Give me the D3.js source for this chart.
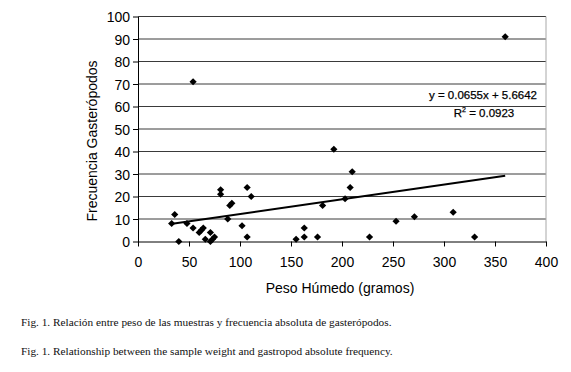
<!DOCTYPE html>
<html>
<head>
<meta charset="utf-8">
<style>
  body { margin: 0; background: #fff; }
  svg { display: block; }
</style>
</head>
<body>
<div id="container"></div>
<script src="https://cdn.jsdelivr.net/npm/d3@7"></script>
<script>

// peso humedo (g) vs frecuencia de gasteropodos
const pesoX = [33, 36, 40, 48, 54, 60, 62, 64, 66, 71, 71, 73, 75, 81, 81, 88, 90, 92, 102, 107, 107, 111,
               155, 163, 163, 176, 181, 192, 203, 208, 210, 227, 253, 271, 309, 330, 54, 360];
const frecY = [8, 12, 0, 8, 6, 4, 5, 6, 1, 4, 0, 1, 2, 23, 21, 10, 16, 17, 7, 24, 2, 20,
               1, 6, 2, 2, 16, 41, 19, 24, 31, 2, 9, 11, 13, 2, 71, 91];

// linear trend shown in the chart
const trendRange = [32, 360];
const slope = 0.0655, intercept = 5.6642, r2 = 0.0923;

const xTicks = [0, 50, 100, 150, 200, 250, 300, 350, 400];
const yTicks = [0, 10, 20, 30, 40, 50, 60, 70, 80, 90, 100];

const captions = [
  "Fig. 1. Relación entre peso de las muestras y frecuencia absoluta de gasterópodos.",
  "Fig. 1. Relationship between the sample weight and gastropod absolute frequency."
];

const W = 571, H = 372;
const pL = 138, pR = 546, pT = 16.5, pB = 241.5;
const font = "'Liberation Sans', Arial, sans-serif";

const svg = d3.select("#container").append("svg")
    .attr("width", W)
    .attr("height", H);

let x = d3.scaleLinear().domain([0, 400]).range([pL, pR]);
let y = d3.scaleLinear().domain([0, 100]).range([pB, pT]);

// gridlines
svg.append("g").selectAll("line").data(yTicks.filter(d => d > 0)).enter().append("line")
    .attr("x1", pL).attr("x2", pR)
    .attr("y1", d => y(d)).attr("y2", d => y(d))
    .attr("stroke", "#3a3a3a").attr("stroke-width", 1);

// right border
svg.append("line")
    .attr("x1", pR).attr("x2", pR).attr("y1", pT).attr("y2", pB)
    .attr("stroke", "#a8a8a8");

// axes
let xAxis = svg.append("g")
    .attr("transform", `translate(0,${pB})`)
    .call(d3.axisBottom(x).tickValues(xTicks).tickSize(5).tickPadding(11).tickSizeOuter(0));

let yAxis = svg.append("g")
    .attr("transform", `translate(${pL},0)`)
    .call(d3.axisLeft(y).tickValues(yTicks).tickSize(5).tickPadding(3).tickSizeOuter(0));

[xAxis, yAxis].forEach(a => {
  a.select(".domain").attr("stroke", "#000");
  a.selectAll(".tick line").attr("stroke", "#000");
  a.selectAll("text").attr("font-family", font).attr("font-size", 14).attr("fill", "#000");
});
yAxis.selectAll("text").attr("dy", "0.36em");

// axis titles
svg.append("text")
    .attr("x", (pL + pR) / 2 - 2).attr("y", 292.5)
    .attr("text-anchor", "middle")
    .attr("font-family", font).attr("font-size", 14)
    .text("Peso Húmedo (gramos)");

svg.append("text")
    .attr("transform", `translate(97,141) rotate(-90)`)
    .attr("text-anchor", "middle")
    .attr("font-family", font).attr("font-size", 14)
    .text("Frecuencia Gasterópodos");

// trend line
svg.append("line")
    .attr("x1", x(trendRange[0])).attr("y1", y(slope * trendRange[0] + intercept))
    .attr("x2", x(trendRange[1])).attr("y2", y(slope * trendRange[1] + intercept))
    .attr("stroke", "#000").attr("stroke-width", 2);

// points
const pts = d3.zip(pesoX, frecY);
svg.append("g").selectAll("path").data(pts).enter().append("path")
    .attr("d", d3.symbol(d3.symbolSquare, 26))
    .attr("transform", d => `translate(${x(d[0])},${y(d[1])}) rotate(45)`)
    .attr("fill", "#000");

// equation
svg.append("text")
    .attr("x", 537).attr("y", 99)
    .attr("text-anchor", "end")
    .attr("font-family", font).attr("font-size", 11.5)
    .attr("stroke", "#000").attr("stroke-width", 0.25)
    .text(`y = ${slope}x + ${intercept}`);

let rt = svg.append("text")
    .attr("x", 484).attr("y", 117)
    .attr("text-anchor", "middle")
    .attr("font-family", font).attr("font-size", 11.5)
    .attr("stroke", "#000").attr("stroke-width", 0.25);
rt.append("tspan").text("R");
rt.append("tspan").attr("dy", -5).attr("font-size", 7).text("2");
rt.append("tspan").attr("dy", 5).text(` = ${r2}`);

// captions
svg.append("g").selectAll("text").data(captions).enter().append("text")
    .attr("x", 21)
    .attr("y", (d, i) => 326 + i * 29)
    .attr("font-family", "'Liberation Serif', 'Times New Roman', serif")
    .attr("font-size", 11.3)
    .attr("fill", "#111")
    .text(d => d);

</script>
</body>
</html>
